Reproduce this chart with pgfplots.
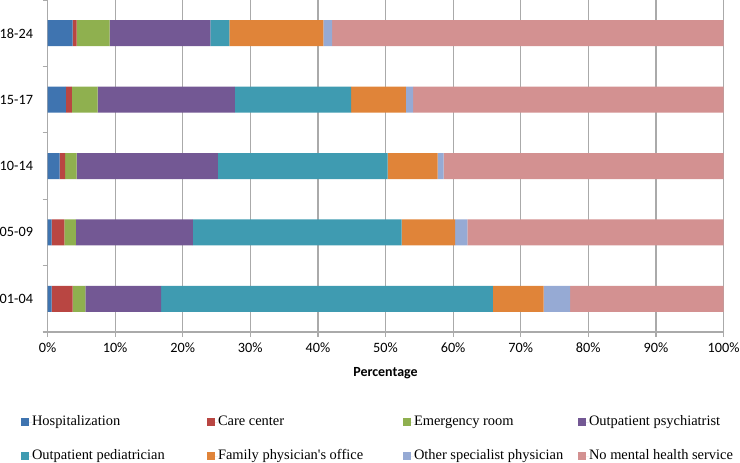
\documentclass[border=0pt]{standalone}
\usepackage{pgfplots}
\pgfplotsset{compat=1.18}
\usepackage{fontspec}
\setmainfont{Liberation Serif}
\newfontfamily\carlito{Carlito}
\definecolor{cblue}{RGB}{63,116,176}
\definecolor{cred}{RGB}{185,70,66}
\definecolor{cgreen}{RGB}{143,176,79}
\definecolor{cpurple}{RGB}{115,88,148}
\definecolor{cteal}{RGB}{63,155,177}
\definecolor{corange}{RGB}{224,132,57}
\definecolor{clblue}{RGB}{150,170,212}
\definecolor{cpink}{RGB}{211,145,145}
\definecolor{axisgray}{RGB}{170,170,170}
\begin{document}
\begin{tikzpicture}
\useasboundingbox (-47.5bp,-131bp) rectangle (692.5bp,332bp);
\begin{axis}[
  at={(0,0)}, anchor=south west,
  scale only axis, width=676bp, height=332bp,
  xbar stacked, bar width=26bp,
  xmin=0, xmax=100, ymin=-0.5, ymax=4.5,
  axis x line*=bottom, axis y line*=left,
  axis line style={draw=axisgray, line width=1.2bp},
  xtick={0,10,...,100},
  /pgf/number format/assume math mode=true,
  xticklabel={\pgfmathprintnumber{\tick}\%},
  xmajorgrids, grid style={draw=axisgray, line width=1.2bp},
  ytick={-0.5,0.5,1.5,2.5,3.5,4.5}, yticklabel=\empty,
  extra y ticks={0,1,2,3,4},
  extra y tick labels={01-04,05-09,10-14,15-17,18-24},
  extra y tick style={tick style={draw=none}, grid=none},
  tick align=outside, major tick length=5bp,
  tick style={draw=axisgray, line width=1.2bp},
  ticklabel style={font=\carlito\fontsize{14.3}{16}\selectfont},
  xticklabel style={yshift=-2bp},
  yticklabel style={xshift=-6bp},
  xlabel={Percentage},
  xlabel style={font=\carlito\bfseries\fontsize{14}{16}\selectfont, at={(axis description cs:0.5,-0.1235)}, anchor=center},
  legend columns=4,
  legend cell align=left,
  legend style={
    at={(-0.0392,-0.2515)}, anchor=north west, draw=none, fill=none,
    inner sep=0pt, outer sep=0pt, column sep=0pt, row sep=21bp,
    nodes={inner sep=0pt, anchor=west, text height=10bp, text depth=3bp, font=\fontsize{14.5}{16}\selectfont},
    /tikz/every even column/.append style={column sep=0pt},
  },
  legend image code/.code={\fill[#1] (0bp,-3.5bp) rectangle (8bp,3.5bp); \path (0bp,0bp) -- (11bp,0bp);},
]
\addplot[fill=cblue, draw=none] coordinates {(0.6,0) (0.6,1) (1.8,2) (2.7,3) (3.7,4)};
\addplot[fill=cred, draw=none] coordinates {(3.1,0) (1.9,1) (0.8,2) (0.9,3) (0.6,4)};
\addplot[fill=cgreen, draw=none] coordinates {(1.9,0) (1.7,1) (1.7,2) (3.8,3) (4.9,4)};
\addplot[fill=cpurple, draw=none] coordinates {(11.2,0) (17.3,1) (20.9,2) (20.3,3) (14.9,4)};
\addplot[fill=cteal, draw=none] coordinates {(49.1,0) (30.9,1) (25.1,2) (17.2,3) (2.8,4)};
\addplot[fill=corange, draw=none] coordinates {(7.5,0) (7.9,1) (7.4,2) (8.1,3) (13.9,4)};
\addplot[fill=clblue, draw=none] coordinates {(3.9,0) (1.8,1) (0.9,2) (1.1,3) (1.3,4)};
\addplot[fill=cpink, draw=none] coordinates {(22.7,0) (37.9,1) (41.4,2) (45.9,3) (57.9,4)};
\addlegendentry{\makebox[175bp][l]{Hospitalization}}
\addlegendentry{\makebox[185bp][l]{Care center}}
\addlegendentry{\makebox[164bp][l]{Emergency room}}
\addlegendentry{Outpatient psychiatrist}
\addlegendentry{\makebox[175bp][l]{Outpatient pediatrician}}
\addlegendentry{\makebox[185bp][l]{Family physician\textquotesingle s office}}
\addlegendentry{\makebox[164bp][l]{Other specialist physician}}
\addlegendentry{No mental health service}
\end{axis}
\end{tikzpicture}
\end{document}
